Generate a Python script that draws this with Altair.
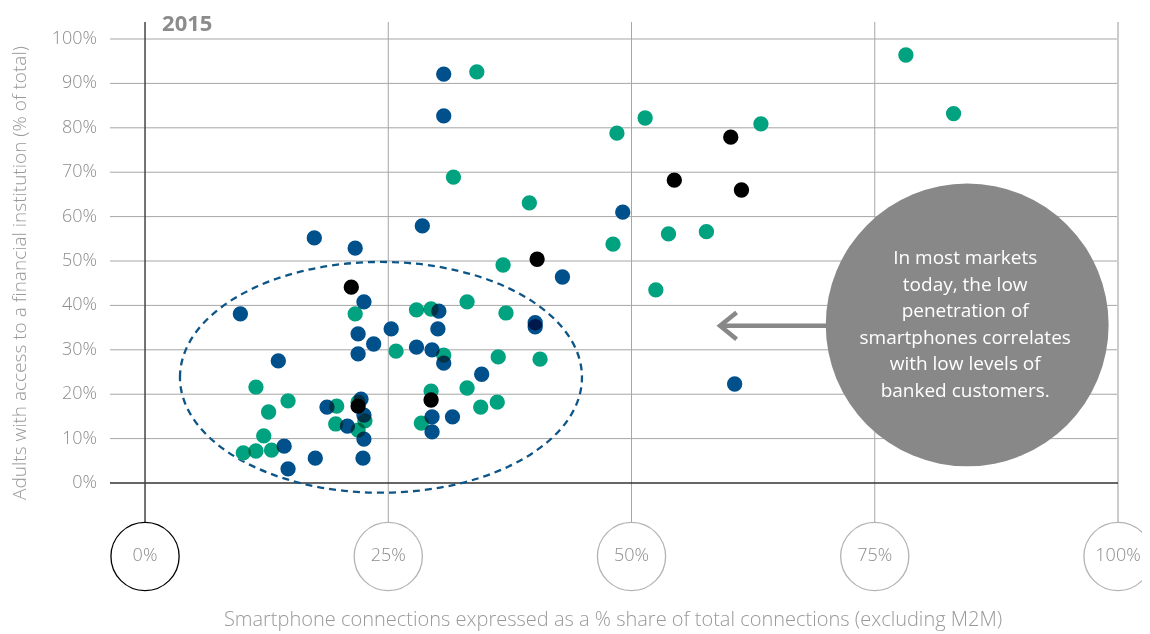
import altair as alt
import pandas as pd

# ---------------- data ----------------
green_x = [34.1, 78.2, 83.1, 51.4, 48.5, 63.3, 31.7, 39.5, 48.1, 53.8, 57.7, 52.5, 36.8,
           33.1, 27.9, 29.4, 37.1, 21.6, 25.8, 30.7, 36.3, 40.6, 11.4, 29.4, 33.1, 14.7,
           12.7, 19.7, 34.5, 36.2, 21.9, 22.6, 19.6, 28.4, 21.9, 12.2, 10.1, 11.4, 13.0]
green_y = [92.6, 96.4, 83.2, 82.2, 78.8, 80.9, 68.9, 63.1, 53.8, 56.1, 56.6, 43.5, 49.1,
           40.8, 39.0, 39.2, 38.3, 38.1, 29.7, 28.8, 28.4, 27.9, 21.6, 20.7, 21.4, 18.5,
           16.0, 17.3, 17.1, 18.2, 18.2, 14.0, 13.3, 13.5, 11.9, 10.6, 6.8, 7.2, 7.4]

blue_x = [30.7, 30.7, 49.1, 28.5, 17.4, 21.6, 42.9, 22.5, 30.2, 40.1, 40.1, 9.8, 30.1,
          25.3, 21.9, 23.5, 27.9, 29.5, 21.9, 30.7, 13.7, 34.6, 60.6, 22.2, 18.7, 22.5,
          20.8, 29.5, 31.6, 29.5, 22.5, 14.3, 14.7, 17.5, 22.4]
blue_y = [92.1, 82.7, 61.0, 57.9, 55.2, 52.9, 46.4, 40.8, 38.7, 36.1, 35.2, 38.1, 34.7,
          34.7, 33.6, 31.3, 30.6, 30.0, 29.1, 27.0, 27.5, 24.5, 22.3, 18.9, 17.1, 15.3,
          12.8, 14.9, 14.9, 11.5, 9.9, 8.3, 3.2, 5.6, 5.6]

black_x = [21.2, 40.3, 60.2, 54.4, 61.3, 21.9, 29.4]
black_y = [44.1, 50.4, 77.9, 68.2, 66.0, 17.3, 18.7]

y_ticks = [0, 10, 20, 30, 40, 50, 60, 70, 80, 90, 100]
x_ticks = [0, 25, 50, 75, 100]

callout_lines = ["In most markets", "today, the low", "penetration of",
                 "smartphones correlates", "with low levels of", "banked customers."]

year_label = "2015"
y_title = "Adults with access to a financial institution (% of total)"
x_title = "Smartphone connections expressed as a % share of total connections (excluding M2M)"

# ---------------- tables ----------------
points = pd.concat([
    pd.DataFrame({"x": green_x, "y": green_y, "group": "Series A"}),
    pd.DataFrame({"x": blue_x, "y": blue_y, "group": "Series B"}),
    pd.DataFrame({"x": black_x, "y": black_y, "group": "Series C"}),
], ignore_index=True)
points["order"] = range(len(points))

X_MIN, X_MAX = -3.6, 100
Y_MIN, Y_MAX = -26.35, 103.83
XS = alt.Scale(domain=[X_MIN, X_MAX], nice=False, zero=False)
YS = alt.Scale(domain=[Y_MIN, Y_MAX], nice=False, zero=False)


def X(f):
    return alt.X(f, type="quantitative", scale=XS, axis=None)


def Y(f):
    return alt.Y(f, type="quantitative", scale=YS, axis=None)


FONT = "Open Sans"
CIRCLE_Y = -16.55

hgrid = pd.DataFrame({"y": [t for t in y_ticks if t > 0], "x0": X_MIN, "x1": X_MAX})
zero_h = pd.DataFrame({"y": [0], "x0": [X_MIN], "x1": [X_MAX]})
vgrid = pd.DataFrame({"x": [25, 50, 75], "y0": CIRCLE_Y, "y1": Y_MAX})
v100 = pd.DataFrame({"x": [100], "y0": [CIRCLE_Y], "y1": [Y_MAX]})
v0 = pd.DataFrame({"x": [0], "y0": [CIRCLE_Y], "y1": [Y_MAX]})

xcirc = pd.DataFrame({
    "x": x_ticks,
    "y": CIRCLE_Y,
    "label": [f"{t}%" for t in x_ticks],
    "stroke": ["#000000"] + ["#b3b3b3"] * (len(x_ticks) - 1),
})
ylab = pd.DataFrame({"y": y_ticks, "x": X_MIN, "label": [f"{t}%" for t in y_ticks]})

ellipse = pd.DataFrame({"x": [24.25], "y": [23.8]})
callout = pd.DataFrame({"x": [84.5], "y": [35.6]})
arrow_shaft = pd.DataFrame({"x": [59.3, 70.5], "y": [35.4, 35.4], "o": [0, 1]})
arrow_head = pd.DataFrame({"x": [60.8, 59.1, 60.8], "y": [38.4, 35.4, 32.4], "o": [0, 1, 2]})

# ---------------- layers ----------------
l_hgrid = alt.Chart(hgrid).mark_rule(color="#a6a6a6", strokeWidth=1).encode(
    x=X("x0"), x2="x1", y=Y("y"))
l_zero = alt.Chart(zero_h).mark_rule(color="#333333", strokeWidth=1.5).encode(
    x=X("x0"), x2="x1", y=Y("y"))
l_vgrid = alt.Chart(vgrid).mark_rule(color="#a6a6a6", strokeWidth=1).encode(
    x=X("x"), y=Y("y0"), y2="y1")
l_v100 = alt.Chart(v100).mark_rule(color="#cccccc", strokeWidth=2).encode(
    x=X("x"), y=Y("y0"), y2="y1")
l_v0 = alt.Chart(v0).mark_rule(color="#444444", strokeWidth=1.5).encode(
    x=X("x"), y=Y("y0"), y2="y1")

l_xcirc = alt.Chart(xcirc).mark_point(
    shape="circle", filled=False, fill="white", fillOpacity=1, size=4650,
    strokeWidth=1.3, opacity=1).encode(
    x=X("x"), y=Y("y"), stroke=alt.Stroke("stroke:N", scale=None))
l_xlab = alt.Chart(xcirc).mark_text(
    font=FONT, fontSize=18, fontWeight=300, color="#8c8c8c", align="center",
    baseline="middle").encode(x=X("x"), y=Y("y"), text="label:N")
l_ylab = alt.Chart(ylab).mark_text(
    font=FONT, fontSize=18, fontWeight=300, color="#8c8c8c", align="right",
    baseline="middle", dx=-13).encode(x=X("x"), y=Y("y"), text="label:N")

l_ellipse = alt.Chart(ellipse).mark_point(
    shape="M -1 0 A 1 0.574 0 1 1 1 0 A 1 0.574 0 1 1 -1 0 Z",
    filled=False, size=402 * 402, stroke="#0d5587", strokeWidth=2.3,
    strokeDash=[7, 5], opacity=1).encode(x=X("x"), y=Y("y"))

l_under = alt.Chart(points).mark_circle(size=235, color="white", opacity=1).encode(
    x=X("x"), y=Y("y"), order="order:Q")
l_points = alt.Chart(points).mark_circle(size=235, opacity=1, blend="multiply").encode(
    x=X("x"), y=Y("y"),
    color=alt.Color("group:N", legend=None,
                    scale=alt.Scale(domain=["Series A", "Series B", "Series C"],
                                    range=["#00a27f", "#00508c", "#000000"])),
    order="order:Q")

l_shaft = alt.Chart(arrow_shaft).mark_line(color="#888888", strokeWidth=4.5).encode(
    x=X("x"), y=Y("y"), order="o:Q")
l_head = alt.Chart(arrow_head).mark_line(color="#888888", strokeWidth=4.5,
                                         strokeJoin="miter").encode(
    x=X("x"), y=Y("y"), order="o:Q")

l_callout = alt.Chart(callout).mark_circle(size=80000, color="#888888", opacity=1).encode(
    x=X("x"), y=Y("y"))
l_callout_text = alt.Chart(callout).mark_text(
    text=callout_lines, font=FONT, fontSize=19, color="white", align="center",
    baseline="middle", lineHeight=26.6, dx=-2, dy=-67).encode(x=X("x"), y=Y("y"))

l_year = alt.Chart(pd.DataFrame({"x": [1.75], "y": [103.4], "t": [year_label]})).mark_text(
    font=FONT, fontSize=22, fontWeight="bold", color="#8c8c8c", align="left",
    baseline="middle").encode(x=X("x"), y=Y("y"), text="t:N")
l_ytitle = alt.Chart(pd.DataFrame({"x": [-12.8], "y": [47.3], "t": [y_title]})).mark_text(
    font=FONT, fontSize=19, fontWeight=300, color="#999999", angle=270, align="center",
    baseline="middle").encode(x=X("x"), y=Y("y"), text="t:N")
l_xtitle = alt.Chart(pd.DataFrame({"x": [48.1], "y": [-30.9], "t": [x_title]})).mark_text(
    font=FONT, fontSize=20, fontWeight=300, color="#999999", align="center",
    baseline="middle").encode(x=X("x"), y=Y("y"), text="t:N")

chart = alt.layer(
    l_hgrid, l_vgrid, l_v100, l_zero, l_v0, l_xcirc, l_xlab, l_ylab, l_ellipse,
    l_under, l_points, l_shaft, l_head, l_callout, l_callout_text,
    l_year, l_ytitle, l_xtitle,
).properties(
    width=1008, height=578,
    background="white",
    autosize=alt.AutoSizeParams(type="none"),
    padding={"left": 102, "top": 14, "right": 24, "bottom": 34},
).configure_view(stroke=None)

chart.save("out.html", embed_options={"renderer": "svg", "actions": False})
